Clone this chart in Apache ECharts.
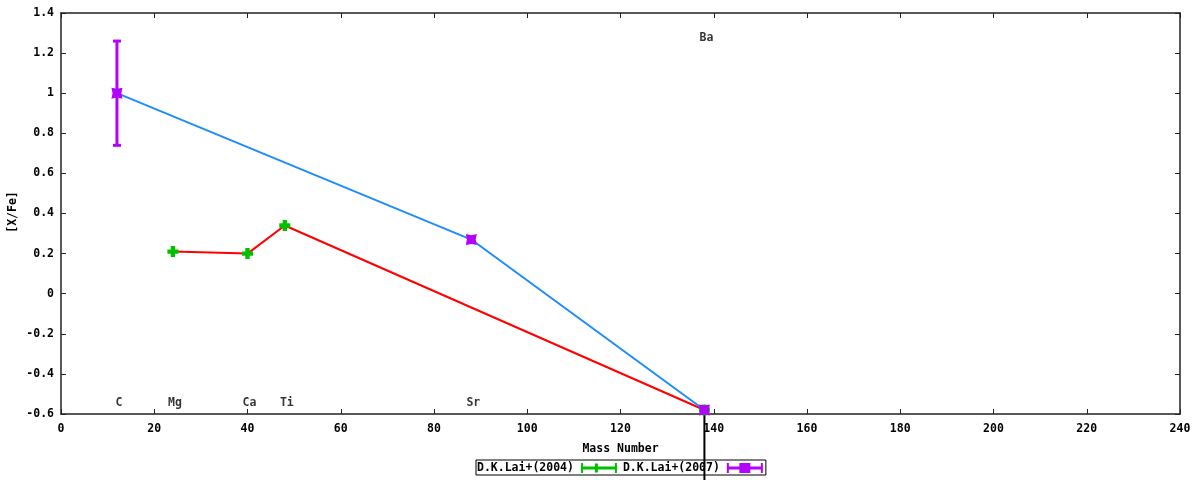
<!DOCTYPE html>
<html>
<head>
<meta charset="utf-8">
<script src="https://cdn.jsdelivr.net/npm/echarts@6/dist/echarts.min.js"></script>
<style>
  html, body { margin: 0; padding: 0; background: #fff; }
  #main { width: 1200px; height: 480px; }
</style>
</head>
<body>
<div id="main"></div>
<script>
// element positions (mass number) and [X/Fe] values
var lai2004 = [[24, 0.21], [40, 0.20], [48, 0.34], [138, -0.58]];
var lai2007 = [[12, 1.00], [88, 0.27], [138, -0.58]];
// error bars: [x, low, high]
var lai2007Err = [[12, 0.74, 1.26]];
var baErr = [[138, -0.58, -1.0]];
// element labels
var labelNames = ['C', 'Mg', 'Ca', 'Ti', 'Sr', 'Ba'];
var labelX = [12, 24, 40, 48, 88, 138];
var labelY = [-0.545, -0.545, -0.545, -0.545, -0.545, 1.275];

var FONT = 'DejaVu Sans Mono';
var PURPLE = '#b400ff';
var GREEN = '#00c000';

var plusPath = 'path://M3,0 L7,0 L7,3 L10,3 L10,7 L7,7 L7,10 L3,10 L3,7 L0,7 L0,3 L3,3 Z';
var boxPath = 'path://M0,0 L5,1 L10,0 L9,5 L10,10 L5,9 L0,10 L1,5 Z';
var greenIcon = 'path://M0,0 L2,0 L2,3.5 L14,3.5 L14,0.5 L17,0.5 L17,3.5 L20,3.5 L20,6.5 L17,6.5 L17,9.5 L14,9.5 L14,6.5 L2,6.5 L2,10 L0,10 Z M20,3.5 L34,3.5 L34,0 L36,0 L36,10 L34,10 L34,6.5 L20,6.5 Z';
var purpleIcon = 'path://M0,0 L2,0 L2,3.5 L12.5,3.5 L12.5,0 L23.5,0 L23.5,3.5 L34,3.5 L34,0 L36,0 L36,10 L34,10 L34,6.5 L23.5,6.5 L23.5,10 L12.5,10 L12.5,6.5 L2,6.5 L2,10 L0,10 Z';

function errRender(color, lw, cap) {
  return function (params, api) {
    var x = api.value(0);
    var lo = api.coord([x, api.value(1)]);
    var hi = api.coord([x, api.value(2)]);
    var kids = [{
      type: 'line',
      shape: { x1: lo[0], y1: lo[1], x2: hi[0], y2: hi[1] },
      style: { stroke: color, lineWidth: lw }
    }];
    if (cap > 0) {
      kids.push({ type: 'line', shape: { x1: lo[0] - cap, y1: lo[1], x2: lo[0] + cap, y2: lo[1] }, style: { stroke: color, lineWidth: lw } });
      kids.push({ type: 'line', shape: { x1: hi[0] - cap, y1: hi[1], x2: hi[0] + cap, y2: hi[1] }, style: { stroke: color, lineWidth: lw } });
    }
    return { type: 'group', children: kids };
  };
}

var axisLine = { show: true, onZero: false, lineStyle: { color: '#222', width: 1.5 } };
var axisTick = { show: true, inside: true, length: 5, lineStyle: { color: '#222', width: 1 } };
var axisLabel = { color: '#000', fontFamily: FONT, fontWeight: 'bold', fontSize: 11.5 };
var nameStyle = { color: '#000', fontFamily: FONT, fontWeight: 'bold', fontSize: 11.5 };

var chart = echarts.init(document.getElementById('main'));
chart.setOption({
  animation: false,
  backgroundColor: '#fff',
  grid: { left: 61, right: 20, top: 13, bottom: 66, containLabel: false, outerBoundsMode: 'none' },
  graphic: [{
    type: 'text', x: 13, y: 212, rotation: Math.PI / 2,
    style: {
      text: '[X/Fe]', align: 'center', verticalAlign: 'middle',
      fill: '#000', font: 'bold 11.5px "DejaVu Sans Mono"'
    }
  }],
  legend: {
    data: [
      { name: 'D.K.Lai+(2004)', icon: greenIcon, itemStyle: { color: GREEN, borderWidth: 0 } },
      { name: 'D.K.Lai+(2007)', icon: purpleIcon, itemStyle: { color: PURPLE, borderWidth: 0 } }
    ],
    left: 476, top: 460,
    align: 'right',
    itemWidth: 36, itemHeight: 10, itemGap: 6,
    padding: [2, 3, 1, 1],
    borderColor: '#000', borderWidth: 1, borderRadius: 0,
    textStyle: { color: '#000', fontFamily: FONT, fontWeight: 'bold', fontSize: 11.5, padding: [0, 2, 0, 0] }
  },
  xAxis: [{
    type: 'value', min: 0, max: 240, interval: 20,
    name: 'Mass Number', nameLocation: 'middle', nameGap: 29,
    nameTextStyle: nameStyle,
    axisLine: axisLine, axisTick: axisTick, splitLine: { show: false },
    axisLabel: Object.assign({ margin: 9 }, axisLabel)
  }, {
    type: 'value', min: 0, max: 240, interval: 20, position: 'top',
    axisLine: axisLine, axisTick: axisTick, splitLine: { show: false },
    axisLabel: { show: false }
  }],
  yAxis: [{
    type: 'value', min: -0.6, max: 1.4, interval: 0.2,
    axisLine: axisLine, axisTick: axisTick,
    splitLine: { show: false },
    axisLabel: Object.assign({ margin: 7 }, axisLabel)
  }, {
    type: 'value', min: -0.6, max: 1.4, interval: 0.2, position: 'right',
    axisLine: axisLine, axisTick: axisTick,
    splitLine: { show: false }, axisLabel: { show: false }
  }],
  series: [
    {
      name: 'baErr', type: 'custom', clip: false, silent: true,
      renderItem: errRender('#000', 2, 0),
      data: baErr, z: 1
    },
    {
      name: 'D.K.Lai+(2007)err', type: 'custom', silent: true,
      renderItem: errRender(PURPLE, 3, 4),
      data: lai2007Err, z: 2
    },
    {
      name: 'D.K.Lai+(2004)', type: 'line', data: lai2004,
      symbol: plusPath, symbolSize: 11,
      itemStyle: { color: GREEN },
      lineStyle: { color: '#ff0000', width: 2 },
      z: 3
    },
    {
      name: 'D.K.Lai+(2007)', type: 'line', data: lai2007,
      symbol: boxPath, symbolSize: 11,
      itemStyle: { color: PURPLE },
      lineStyle: { color: '#1e8cff', width: 2 },
      z: 4
    },
    {
      name: 'labels', type: 'scatter', symbolSize: 0, silent: true,
      data: labelNames.map(function (n, i) { return { name: n, value: [labelX[i], labelY[i]] }; }),
      label: {
        show: true, position: 'inside', formatter: '{b}', offset: [2, 0],
        color: '#000', fontFamily: FONT, fontWeight: 'bold', fontSize: 11.5
      },
      z: 5
    }
  ]
});
</script>
</body>
</html>
